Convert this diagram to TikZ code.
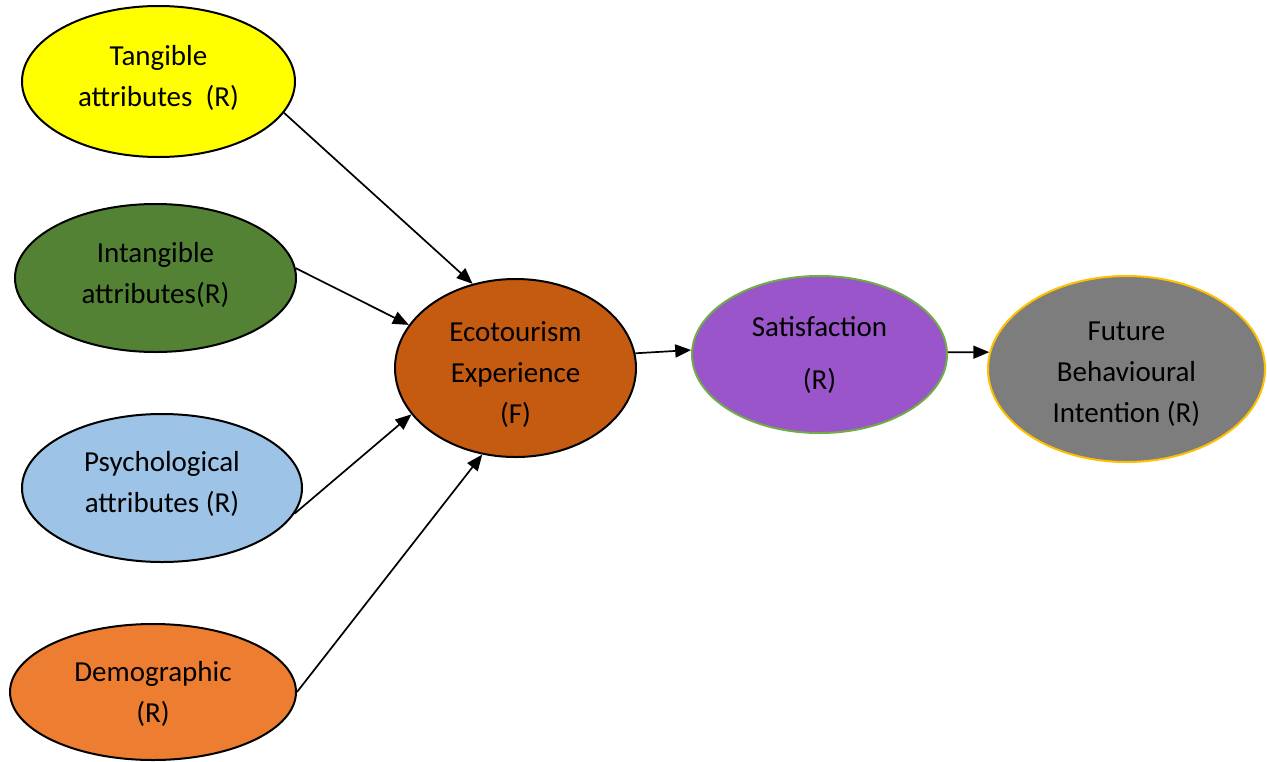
\documentclass[tikz,border=0pt]{standalone}
\usepackage{fontspec}
\setmainfont{Carlito}
\usetikzlibrary{shapes.geometric,arrows.meta}
\definecolor{cyel}{RGB}{255,255,0}
\definecolor{cgreen}{RGB}{84,130,53}
\definecolor{cblue}{RGB}{157,195,230}
\definecolor{corange}{RGB}{237,125,49}
\definecolor{cbrown}{RGB}{197,90,17}
\definecolor{cpurple}{RGB}{153,85,201}
\definecolor{cgrey}{RGB}{125,125,125}
\definecolor{cgborder}{RGB}{112,173,71}
\definecolor{cyborder}{RGB}{255,192,0}
\tikzset{
  oval/.style={ellipse, draw=black, line width=2pt, inner sep=0pt},
  txt/.style={align=center, inner sep=0pt, font=\fontsize{29}{41}\selectfont},
  conn/.style={line width=1.7pt, -{Triangle[length=16pt,width=13pt]}}
}
\begin{document}
\begin{tikzpicture}[x=1pt,y=-1pt]
\useasboundingbox (0,0) rectangle (1267,761);
\node[oval, fill=cyel, minimum width=273, minimum height=151] (tang) at (158.5,81.5) {};
\node[oval, fill=cgreen, minimum width=281, minimum height=148] (intang) at (155.5,278) {};
\node[oval, fill=cblue, minimum width=280, minimum height=148] (psych) at (162,488) {};
\node[oval, fill=corange, minimum width=286, minimum height=136] (demo) at (153,692) {};
\node[oval, fill=cbrown, minimum width=241, minimum height=178] (eco) at (515.5,368) {};
\node[oval, fill=cpurple, draw=cgborder, minimum width=255, minimum height=157] (sat) at (819.5,354.5) {};
\node[oval, fill=cgrey, draw=cyborder, minimum width=277, minimum height=186] (fut) at (1126.5,369) {};
\node[txt] (tangt) at ([yshift=4]tang.center) {Tangible\\attributes\ \ (R)};
\node[txt] (intangt) at ([yshift=3]intang.center) {Intangible\\attributes(R)};
\node[txt] (psycht) at ([yshift=4]psych.center) {Psychological\\attributes (R)};
\node[txt] (demot) at ([yshift=-2]demo.center) {Demographic\\(R)};
\node[txt] (ecot) at ([yshift=-7]eco.center) {Ecotourism\\Experience\\(F)};
\node[txt, font=\fontsize{29}{53}\selectfont] (satt) at (sat.center) {Satisfaction\\(R)};
\node[txt] (futt) at ([yshift=-5]fut.center) {Future\\Behavioural\\Intention (R)};
\draw[conn] (tang.-14) -- (eco.117);
\draw[conn] (intang.4) -- (eco.158);
\draw[conn] (psych.-11) -- (eco.204);
\draw[conn] (demo.0) -- (eco.249);
\draw[conn] (eco.7) -- (sat.178);
\draw[conn] (sat.1) -- (fut.173);
\end{tikzpicture}
\end{document}
